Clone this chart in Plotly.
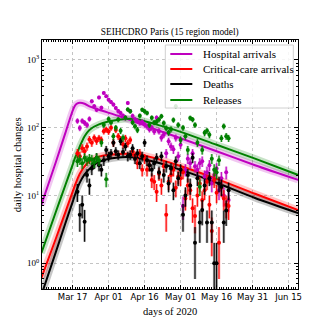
import numpy as np
import pandas as pd
import plotly.graph_objects as go

# ---------------- data ----------------
obs_start = "2020-03-19"
hospital_obs = [126, 99, 126, 118, 110, 135, 245, 208, 184, 280, 197, 327, 292, 260, 240, 220,
                195, 176, 165, 150, 140, 232, 176, 149, 133, 125, 118, 122, 112, 105, 95, 100,
                88, 140, 89, 71, 79, 42, 63, 53, 48, 71, 38, 56, 7, 24, 35, 30, 42, 27, 24, 30,
                32, 19, 22, 28, 15, 20, 25, 12, 18, 10, 22, 8.6]
critical_obs = [42, 38, 50, 45, 53, 67, 60, 71, 64, 70, 66, 89, 94, 88, 100, 60, 93, 75, 67, 57,
                70, 59, 66, 45, 38, 30, 42, 24, 35, 24, 28, 17, 16, 11.4, 21, 14, 27, 5.2, 16, 20,
                24, 13, 19, 18, 22, 9, 14, 12, 6.5, 5, 10, 15, 8.6, 12, 16, 7.3, 3, 17, 11, 2, 13,
                9, 7.3, 7]
deaths_obs = [11.4, 5.2, 7.3, 4.1, 20, 14, 25, 30, 36, 28, 24, 33, 47, 38, 42, 60, 45, 40, 63, 44,
              53, 38, 40, 50, 35, 42, 30, 38, 60, 33, 28, 24, 30, 36, 22, 38, 20, 27, 15, 25, 12,
              32, 18, 24, 5.2, 10, 20, 14, 36, 2.0, 18, 4.0, 6.1, 14, 4.0, 18, 4.0, 1.0, 1.0, 15,
              13.5, 4.0, 6, 12]
releases_obs = [32, 34, 30, 36, 33, 35, 34, 31, 36, 33, 60, 110, 17.4, 135, 120, 75, 100, 132, 90,
                71, 140, 186, 175, 120, 105, 93, 150, 184, 175, 165, 110, 140, 120, 123, 132, 148,
                117, 98, 85, 95, 130, 208, 110, 66, 100, 75, 47, 139, 132, 110, 60, 13.5, 47, 84,
                90, 79, 35, 24, 22, 33, 70, 105, 75, 70]

model_dates = ["2020-03-04", "2020-03-10", "2020-03-14", "2020-03-17", "2020-03-18", "2020-03-19",
               "2020-03-20", "2020-03-22", "2020-03-24", "2020-03-28", "2020-04-05", "2020-04-12",
               "2020-04-20", "2020-05-01", "2020-05-16", "2020-06-01", "2020-06-19"]
hospital_model = [7.3, 31, 84, 178, 212, 228, 233, 226, 207, 184, 150, 122, 96, 70, 45, 28, 17]
critical_model = [0.61, 2.3, 5.7, 11.3, 14.2, 17.5, 21, 27, 32, 37.5, 41, 40.5, 35.9, 27.2, 17.6, 10.6, 6.1]
deaths_model = [0.34, 1.46, 3.9, 8.0, 10.2, 12.8, 15.5, 20.5, 24.7, 31.4, 36.5, 36.5, 31.4, 23.9, 15.4, 9.2, 5.5]
releases_model = [1.42, 5.7, 14.3, 28.3, 36, 43, 53, 75, 93, 112, 131, 135, 114, 87, 56, 35, 20.1]

labels = ["Hospital arrivals", "Critical-care arrivals", "Deaths", "Releases"]
colors = ["#bf00bf", "#ff0000", "#000000", "#008000"]
light = ["rgba(191,0,191,0.35)", "rgba(255,0,0,0.35)", "rgba(0,0,0,0.35)", "rgba(0,128,0,0.35)"]
band = ["rgba(191,0,191,0.22)", "rgba(255,0,0,0.22)", "rgba(0,0,0,0.22)", "rgba(0,128,0,0.22)"]

models = [hospital_model, critical_model, deaths_model, releases_model]
observations = [hospital_obs, critical_obs, deaths_obs, releases_obs]

SERIF = "Liberation Serif"
SANS = "DejaVu Sans"

# page offset (browser body margin) and figure size
OFF = 8
FW = FH = 332 - OFF
# plot-area geometry in window pixels
L, R, T, B = 41.7, 297.7, 40.0, 289.0
W, H = R - L, B - T


def px_x(p):
    return (p - L) / W


def px_y(p):
    return (B - p) / H


fig = go.Figure()

# model curves (band + line)
for col, bcol, mod in zip(colors, band, models):
    fig.add_trace(go.Scatter(x=model_dates, y=mod, mode="lines",
                             line=dict(color=bcol, width=7, shape="spline", smoothing=0.8),
                             showlegend=False, hoverinfo="skip"))
for lab, col, mod in zip(labels, colors, models):
    fig.add_trace(go.Scatter(x=model_dates, y=mod, mode="lines", name=lab,
                             line=dict(color=col, width=2, shape="spline", smoothing=0.8),
                             showlegend=False))

# observations with Poisson error bars
for lab, col, lcol, obs in zip(labels, colors, light, observations):
    v = np.array(obs, dtype=float)
    dates = pd.date_range(obs_start, periods=len(v), freq="D")
    err = np.sqrt(v)
    errm = np.minimum(err, v * 0.999)
    fig.add_trace(go.Scatter(x=dates, y=v, mode="markers", marker=dict(size=1, opacity=0),
                             error_y=dict(type="data", array=err, arrayminus=errm, color=lcol,
                                          thickness=2.6, width=0),
                             showlegend=False, hoverinfo="skip"))
    fig.add_trace(go.Scatter(x=dates, y=v, mode="markers", marker=dict(size=4, color=col),
                             error_y=dict(type="data", array=err, arrayminus=errm, color=col,
                                          thickness=1, width=0),
                             name=lab, showlegend=False))

# legend drawn by hand to match the reference box
shapes = [dict(type="rect", xref="paper", yref="paper",
               x0=px_x(165), x1=px_x(293), y0=px_y(108), y1=px_y(45),
               line=dict(color="#d0d0d0", width=1), fillcolor="rgba(255,255,255,0.85)", layer="above")]
annotations = []
row_y = [54, 69, 84, 100]
for lab, col, ry in zip(labels, colors, row_y):
    shapes.append(dict(type="line", xref="paper", yref="paper", x0=px_x(170), x1=px_x(192),
                       y0=px_y(ry), y1=px_y(ry), line=dict(color=col, width=2), layer="above"))
    annotations.append(dict(xref="paper", yref="paper", x=px_x(200.5), y=px_y(ry), text=lab,
                            xanchor="left", yanchor="middle", showarrow=False,
                            font=dict(family=SERIF, size=11, color="black")))

# axis titles
annotations.append(dict(xref="paper", yref="paper", x=px_x(169.7), y=px_y(311), text="days of 2020",
                        xanchor="center", yanchor="middle", showarrow=False,
                        font=dict(family=SERIF, size=10.5, color="black")))
annotations.append(dict(xref="paper", yref="paper", x=px_x(16.5), y=px_y(164.5),
                        text="daily hospital changes", textangle=-90,
                        xanchor="center", yanchor="middle", showarrow=False,
                        font=dict(family=SERIF, size=10.7, color="black")))

ymin_minor = [k * 10.0 ** e for e in range(-1, 4) for k in range(2, 10)]

fig.update_layout(
    width=FW, height=FH,
    margin=dict(l=L - OFF, r=FW - (R - OFF), t=T - OFF, b=FH - (B - OFF), autoexpand=False),
    paper_bgcolor="white", plot_bgcolor="white",
    title=dict(text="SEIHCDRO Paris (15 region model)", x=((L + R) / 2 - OFF) / FW, xanchor="center",
               y=1 - (32 - OFF) / FH, yanchor="middle", font=dict(family=SERIF, size=9.4, color="black")),
    showlegend=False,
    shapes=shapes,
    annotations=annotations,
)

fig.update_xaxes(
    type="date", range=["2020-03-04 06:00", "2020-06-18 22:00"],
    tick0="2020-03-17", dtick=15 * 86400000, tickformat="%b %d",
    ticks="inside", ticklen=4, tickcolor="black", tickwidth=1,
    showline=True, linecolor="black", linewidth=1, mirror="allticks",
    showgrid=True, gridcolor="#c4c4c4", griddash="dot", gridwidth=0.8,
    tickfont=dict(family=SANS, size=8.5, color="black"),
    minor=dict(ticks="inside", ticklen=2, dtick=86400000, tick0="2020-03-17", tickcolor="black",
               showgrid=False),
    zeroline=False, automargin=False,
)
fig.update_yaxes(
    type="log", range=[-0.38, 3.295],
    tickvals=[1, 10, 100, 1000],
    ticktext=["10<sup>0</sup>", "10<sup>1</sup>", "10<sup>2</sup>", "10<sup>3</sup>"],
    ticks="inside", ticklen=4, tickcolor="black", tickwidth=1,
    showline=True, linecolor="black", linewidth=1, mirror="allticks",
    showgrid=True, gridcolor="#c4c4c4", griddash="dot", gridwidth=0.8,
    tickfont=dict(family=SERIF, size=9, color="black"),
    minor=dict(ticks="inside", ticklen=2, tickvals=ymin_minor, tickcolor="black", showgrid=False),
    zeroline=False, automargin=False,
)

fig.write_html("out.html")
